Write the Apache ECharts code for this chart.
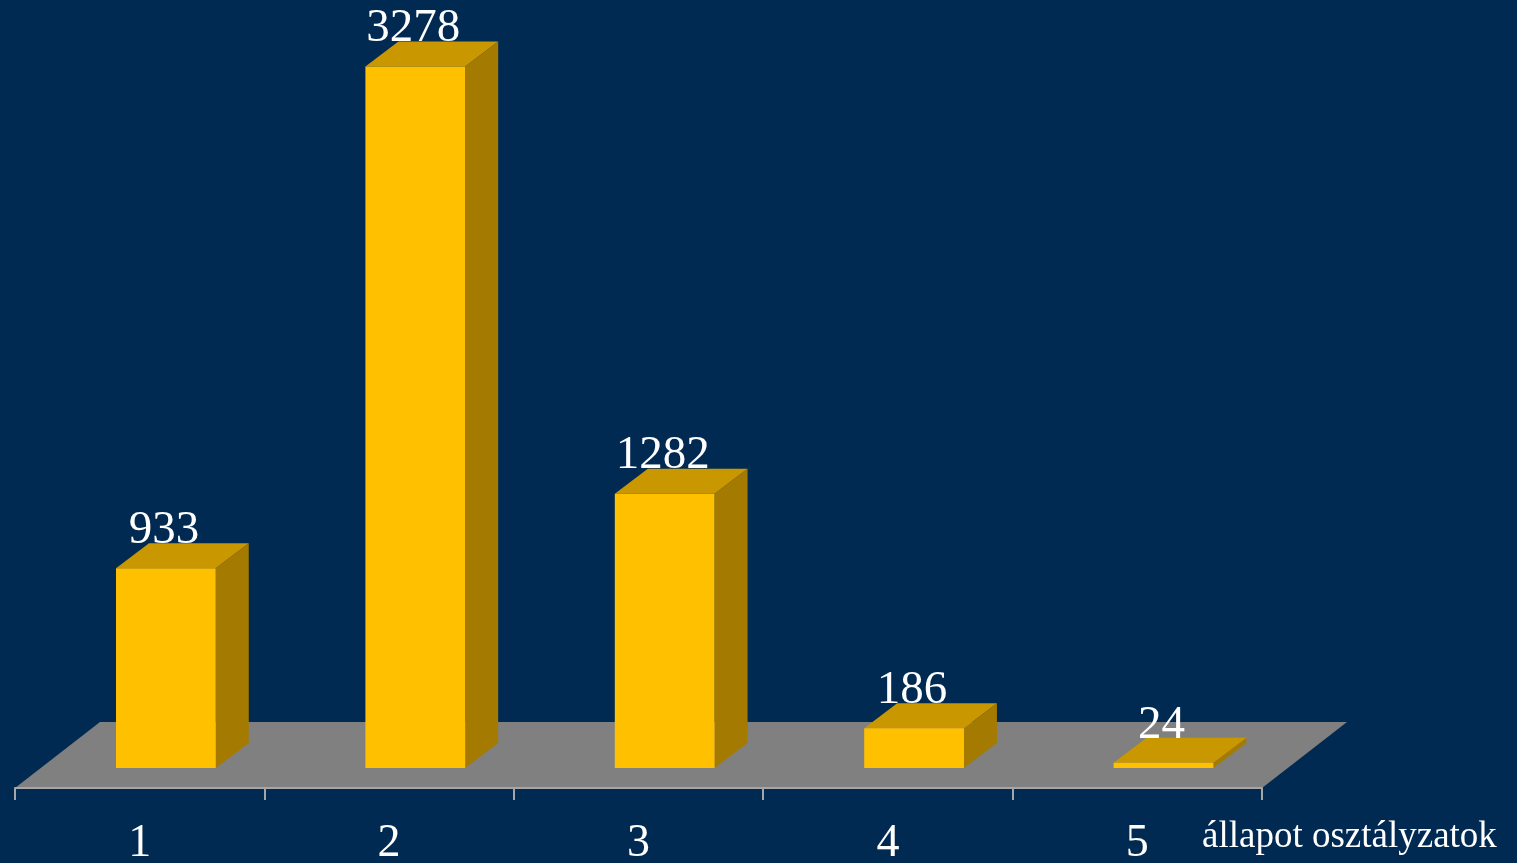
<!DOCTYPE html>
<html>
<head>
<meta charset="utf-8">
<script src="https://cdn.jsdelivr.net/npm/echarts@6/dist/echarts.min.js"></script>
<style>
  html, body { margin: 0; padding: 0; background: #012a52; }
  #chart { width: 1517px; height: 863px; }
</style>
</head>
<body>
<div id="chart"></div>
<script>
// osztályzatok és darabszámok
const categories = ['1', '2', '3', '4', '5'];
const values = [933, 3278, 1282, 186, 24];
const axisName = 'állapot osztályzatok';

const serif = "'Liberation Serif', 'Times New Roman', serif";

// 3D hasáb rajzolása
const renderBar = (params, api) => {
  const top = api.coord([api.value(0), api.value(1)]);
  const base = api.coord([api.value(0), 0]);
  const band = api.size([1, 0])[0];
  const w = band * 0.4;
  const x0 = top[0] - band * 0.095;
  const x1 = x0 + w;
  const yb = base[1];
  const yt = top[1];
  const dx = 33, dy = -25;
  return {
    type: 'group',
    children: [
      {
        type: 'polygon',
        shape: { points: [[x1, yb], [x1 + dx, yb + dy], [x1 + dx, yt + dy], [x1, yt]] },
        style: { fill: '#a47b00' }
      },
      {
        type: 'polygon',
        shape: { points: [[x0, yt], [x1, yt], [x1 + dx, yt + dy], [x0 + dx, yt + dy]] },
        style: { fill: '#c99700' }
      },
      {
        type: 'rect',
        shape: { x: x0, y: yt, width: w, height: yb - yt },
        style: { fill: '#ffc000' }
      },
      {
        type: 'text',
        x: (x0 + x1) / 2 - 2,
        y: yt - 14,
        style: {
          text: String(api.value(1)),
          fill: '#ffffff',
          font: '47px ' + serif,
          align: 'center',
          verticalAlign: 'bottom'
        }
      }
    ]
  };
};

// szürke alaplap
const renderFloor = (params, api) => {
  const cs = params.coordSys;
  const yf = cs.y + cs.height + 20;
  const dx = 85, dy = -66;
  return {
    type: 'polygon',
    shape: {
      points: [[cs.x, yf], [cs.x + cs.width, yf], [cs.x + cs.width + dx, yf + dy], [cs.x + dx, yf + dy]]
    },
    style: { fill: '#808080' }
  };
};

const myChart = echarts.init(document.getElementById('chart'));
myChart.setOption({
  backgroundColor: '#012a52',
  animation: false,
  grid: { left: 15, right: 255, top: 19, bottom: 95, containLabel: false, outerBoundsMode: 'none' },
  xAxis: {
    type: 'category',
    data: categories,
    offset: 20,
    z: 5,
    axisLine: { onZero: false, lineStyle: { color: '#a6a6a6', width: 2 } },
    axisTick: { show: true, interval: 0, alignWithLabel: false, length: 12, lineStyle: { color: '#a6a6a6', width: 2 } },
    axisLabel: { color: '#ffffff', fontSize: 46, fontFamily: serif, margin: 33 },
    name: axisName,
    nameLocation: 'end',
    nameGap: -60,
    nameTextStyle: {
      color: '#ffffff', fontSize: 37, fontFamily: serif,
      align: 'left', verticalAlign: 'top', padding: [31, 0, 0, 0]
    }
  },
  yAxis: { type: 'value', min: 0, max: 3500, show: false },
  series: [
    {
      type: 'custom',
      renderItem: renderFloor,
      data: [[0, 0]],
      z: 1,
      silent: true
    },
    {
      type: 'custom',
      renderItem: renderBar,
      data: categories.map((c, i) => [i, values[i]]),
      z: 2
    }
  ]
});
</script>
</body>
</html>
